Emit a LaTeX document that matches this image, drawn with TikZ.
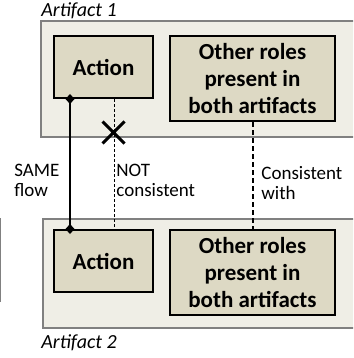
\documentclass[tikz,border=0pt]{standalone}
\usepackage{fontspec}
\setmainfont{Carlito}
\usetikzlibrary{arrows.meta,shapes.misc,positioning,calc}
\definecolor{cpanel}{HTML}{EFEEE6}
\definecolor{cedge}{HTML}{808080}
\definecolor{crole}{HTML}{DDD9C4}

\begin{document}
\begin{tikzpicture}[x=0.5pt, y=-0.5pt,
      panel/.style={draw=cedge, fill=cpanel, line width=0.75pt, inner sep=0pt},
      role/.style={draw, fill=crole, line width=1pt, align=center, inner sep=0pt,
        font=\fontsize{11.5}{13.5}\selectfont\bfseries},
      lbl/.style={align=left, inner sep=0pt, font=\fontsize{9.5}{10}\selectfont},
      title/.style={inner sep=0pt, font=\fontsize{10}{12}\selectfont\itshape},
      flow/.style={line width=0.6pt, {Diamond[length=5pt,width=4.5pt]}-{Diamond[length=5pt,width=4.5pt]},
        shorten <=-2.5pt, shorten >=-2.5pt},
      notcons/.style={line width=0.5pt, dash pattern=on 1.5pt off 1pt},
      cons/.style={line width=1pt, dash pattern=on 2.5pt off 1.5pt}
    ]
    \clip (0,0) rectangle (353,358);

    % artifact panels
    \node[panel, minimum width=169.5pt, minimum height=58pt] (art1) at (210.5,79) {};
    \node[panel, minimum width=168.5pt, minimum height=54.5pt] (art2) at (211.5,273.5) {};
    \draw[cedge, line width=0.75pt] (0.5,218) -- (0.5,302);

    \node[title, anchor=west] (t1) at (41,11) {Artifact 1};
    \node[title, anchor=west] (t2) at (41,343) {Artifact 2};

    % roles
    \node[role, minimum width=49.5pt, minimum height=31pt] (act1) at (103.5,67) {Action};
    \node[role, minimum width=82.5pt, minimum height=42.5pt] (oth1) at (252.5,78.5) {Other roles\\present in\\both artifacts};
    \node[role, minimum width=49.5pt, minimum height=31pt] (act2) at (103.5,261) {Action};
    \node[role, minimum width=82.5pt, minimum height=42.5pt] (oth2) at (252.5,272.5) {Other roles\\present in\\both artifacts};

    % links
    \draw[flow] ([xshift=8.5pt]act1.south west) -- ([xshift=8.5pt]act2.north west);
    \draw[notcons] ([xshift=-20pt]act1.south east) -- ([xshift=-20pt]act2.north east);
    \draw[cons] (oth1.south) -- (oth2.north);
    \node[draw, cross out, line width=1.5pt, minimum size=9.5pt, inner sep=0pt] (xmark) at (113.5,132.5) {};

    \node[lbl, anchor=west] (same) at (14,180) {SAME\\flow};
    \node[lbl, anchor=west] (notc) at (116,180) {NOT\\consistent};
    \node[lbl, anchor=west] (cwith) at (261,183) {Consistent\\with};
  \end{tikzpicture}
\end{document}
